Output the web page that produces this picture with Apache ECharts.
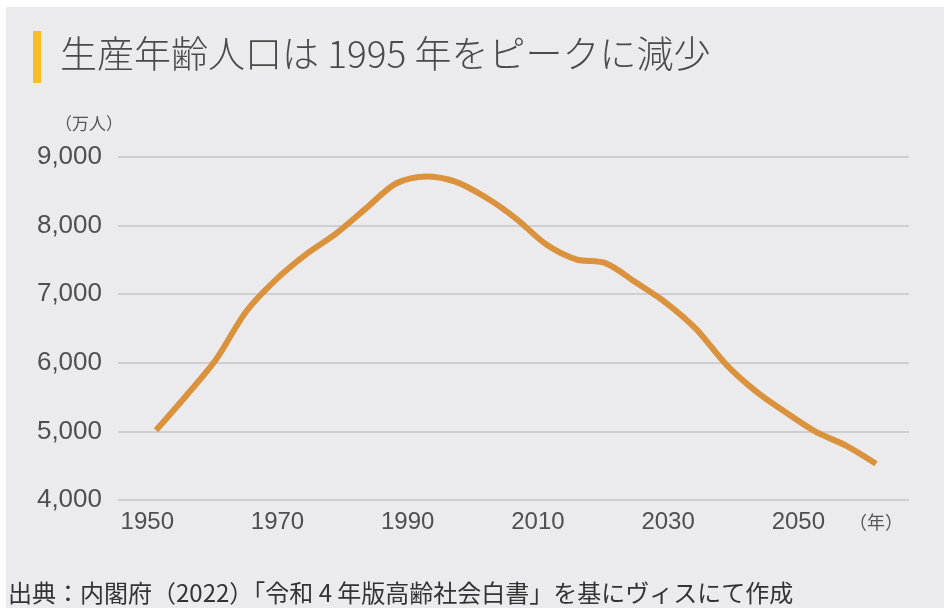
<!DOCTYPE html>
<html>
<head>
<meta charset="utf-8">
<script src="https://cdn.jsdelivr.net/npm/echarts@6/dist/echarts.min.js"></script>
<style>
  html, body { margin: 0; padding: 0; background: #fff; }
  #chart { width: 944px; height: 608px; }
</style>
</head>
<body>
<div id="chart"></div>
<script type="text/javascript">

// 生産年齢人口（15〜64歳）の推移 [万人]
var years = ['1950', '1955', '1960', '1965', '1970', '1975', '1980', '1985', '1990', '1995',
             '2000', '2005', '2010', '2015', '2020', '2021', '2025', '2030', '2035', '2040',
             '2045', '2050', '2055', '2060', '2065'];
var population = [5017, 5517, 6047, 6744, 7212, 7581, 7883, 8251, 8614, 8716,
                  8638, 8409, 8103, 7728, 7509, 7450, 7170, 6875, 6494, 5978,
                  5584, 5275, 4992, 4793, 4529];
var yearTicks = [1950, 1970, 1990, 2010, 2030, 2050];
var titleText = '生産年齢人口は 1995 年をピークに減少';
var sourceText = '出典：内閣府（2022）「令和 4 年版高齢社会白書」を基にヴィスにて作成';

var jpFont = '"Noto Sans CJK JP", sans-serif';
var numFont = '"Liberation Sans", Arial, sans-serif';

var myChart = echarts.init(document.getElementById('chart'));
var option = {
    backgroundColor: '#ffffff',
    animation: false,
    graphic: [
        { type: 'rect', z: -10, shape: { x: 6, y: 7, width: 938, height: 601 }, style: { fill: '#ebebed' } },
        { type: 'rect', shape: { x: 33, y: 31, width: 8, height: 52 }, style: { fill: '#f9be26' } },
        { type: 'text', x: 60, y: 54, style: { text: titleText, font: '300 37px ' + jpFont, fill: '#4a4a4a', textVerticalAlign: 'middle' } },
        { type: 'text', x: 55, y: 124, style: { text: '（万人）', font: '17px ' + jpFont, fill: '#555555', textVerticalAlign: 'middle' } },
        { type: 'text', x: 849, y: 522, style: { text: '（年）', font: '18px ' + jpFont, fill: '#555555', textVerticalAlign: 'middle' } },
        { type: 'text', x: 8, y: 593, style: { text: sourceText, font: '24px ' + jpFont, fill: '#333333', textVerticalAlign: 'middle' } }
    ],
    grid: [
        // 目盛り・ラベル用
        { left: 118, right: 35, top: 157, bottom: 108 },
        // 折れ線用（等間隔の点）
        { left: 156, right: 68, top: 157, bottom: 108 }
    ],
    xAxis: [
        {
            type: 'value', gridIndex: 0, min: 1945.5, max: 2067,
            axisLine: { show: false }, axisTick: { show: false }, splitLine: { show: false },
            axisLabel: {
                customValues: yearTicks, margin: 10,
                fontSize: 24, color: '#4f4f4f', fontFamily: numFont,
                formatter: function (v) { return String(v); }
            }
        },
        {
            type: 'category', gridIndex: 1, data: years, boundaryGap: false, show: false
        }
    ],
    yAxis: [
        {
            type: 'value', gridIndex: 0, min: 4000, max: 9000, interval: 1000,
            axisLine: { show: false }, axisTick: { show: false },
            splitLine: { lineStyle: { color: '#cfcfd3', width: 2 } },
            axisLabel: {
                margin: 16, fontSize: 26, color: '#4f4f4f', fontFamily: numFont,
                padding: [0, 0, 12, 0],
                formatter: function (v) { return v.toLocaleString('en-US'); }
            }
        },
        {
            type: 'value', gridIndex: 1, min: 4000, max: 9000, show: false
        }
    ],
    series: [
        {
            name: '生産年齢人口',
            type: 'line',
            xAxisIndex: 1,
            yAxisIndex: 1,
            data: population,
            smooth: 0.3,
            symbol: 'none',
            lineStyle: { color: '#da923c', width: 6, cap: 'butt' }
        }
    ]
};
myChart.setOption(option);

</script>
</body>
</html>
